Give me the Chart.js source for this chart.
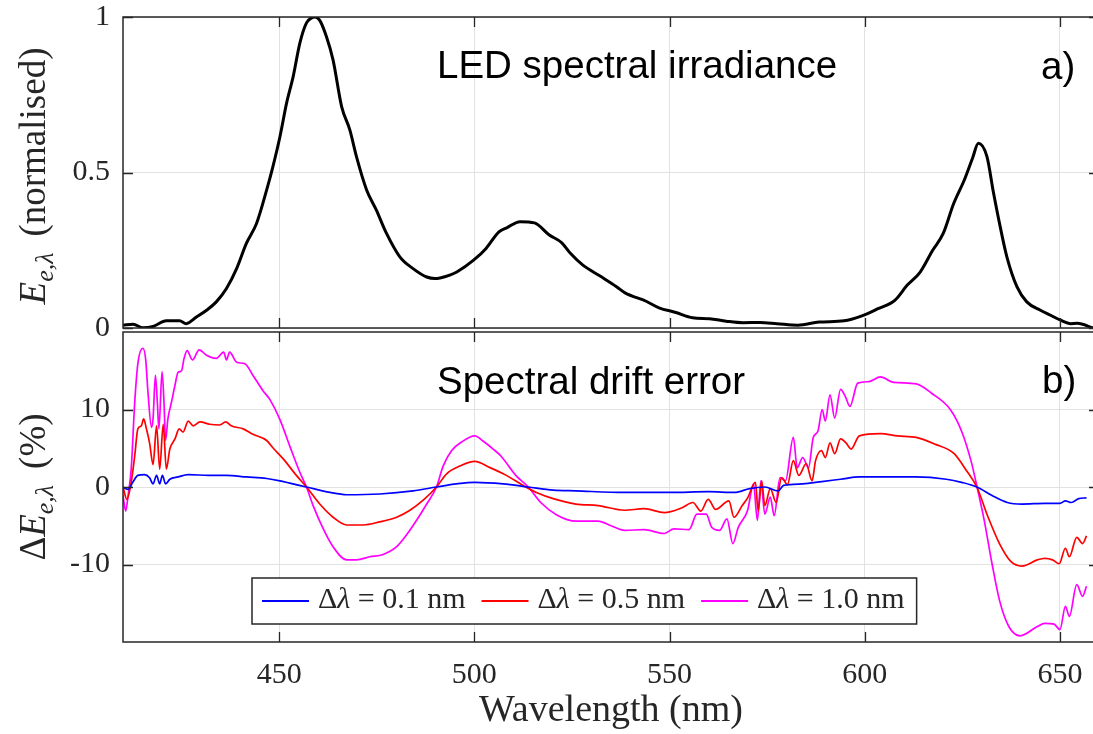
<!DOCTYPE html>
<html>
<head>
<meta charset="utf-8">
<script src="https://cdn.jsdelivr.net/npm/chart.js@4.4.0/dist/chart.umd.min.js"></script>
<style>
  html, body { margin: 0; padding: 0; background: #fff; overflow: hidden; }
  #wrap { position: relative; width: 1093px; height: 734px; overflow: hidden; }
  canvas { position: absolute; left: 0; }
  #top { top: 0; }
  #bottom { top: 330px; }
</style>
</head>
<body>
<div id="wrap">
  <canvas id="top" width="1110" height="345"></canvas>
  <canvas id="bottom" width="1110" height="404"></canvas>
</div>
<script>
// wavelength ticks (nm)
const xTicks = [450, 500, 550, 600, 650];
const topTicks = [0, 0.5, 1];
const bottomTicks = [-10, 0, 10];

// a) normalised LED spectral irradiance
const irrWl = [410, 412.6, 415.1, 417.7, 421.1, 424.5, 426.2, 428.8, 431.4, 433.9, 436.5, 439.1, 441.6, 444.2,
  446.8, 448.4, 450.2, 451.9, 453.6, 455.3, 457.0, 458.3, 459.2, 460.4, 462.1, 463.8, 466.0, 468.1, 469.8,
  472.4, 474.9, 477.5, 480.9, 484.3, 487.8, 489.9, 491.2, 493.7, 495.5, 499.8, 503.0, 506.3, 508.4, 511.7,
  515.4, 519.2, 522.4, 524.6, 527.8, 532.2, 536.5, 538.6, 544.0, 547.3, 551.6, 555.9, 560.2, 564.5, 568.8,
  573.2, 577.5, 582.9, 588.3, 594.7, 599.1, 603.4, 607.7, 610.9, 614.2, 617.4, 620.1, 622.8, 625.5, 627.6,
  629.1, 631.3, 633.0, 634.7, 636.4, 639.0, 641.5, 645.0, 647.6, 650.2, 652.7, 654.4, 658.5];
const irradiance = [0.009, 0.012, 0.001, 0.005, 0.023, 0.023, 0.014, 0.035, 0.057, 0.084, 0.127, 0.191, 0.272, 0.336,
  0.444, 0.519, 0.615, 0.723, 0.809, 0.916, 0.981, 0.997, 1.0, 0.989, 0.937, 0.862, 0.712, 0.637, 0.551,
  0.444, 0.379, 0.304, 0.229, 0.191, 0.164, 0.159, 0.161, 0.170, 0.180, 0.218, 0.256, 0.309, 0.323, 0.342,
  0.338, 0.299, 0.274, 0.240, 0.202, 0.167, 0.132, 0.113, 0.086, 0.065, 0.050, 0.033, 0.030, 0.022, 0.017,
  0.018, 0.014, 0.009, 0.019, 0.023, 0.038, 0.062, 0.089, 0.138, 0.180, 0.250, 0.304, 0.401, 0.476, 0.546,
  0.594, 0.551, 0.433, 0.325, 0.229, 0.132, 0.084, 0.057, 0.041, 0.025, 0.014, 0.015, 0.0];

// b) spectral drift error (%), dl = 0.1 nm
const wl01 = [410, 411.3, 412.5, 413.8, 415.5, 416.8, 417.7, 418.6, 419.4, 420.1, 420.9, 422.0, 424.1, 426.7,
  432, 436.5, 441.6, 446.8, 450.2, 452.7, 457.0, 463.0, 467.3, 475.8, 484.3, 490.3, 495.4, 500.1, 507.4,
  513.8, 520.2, 526, 538.5, 550, 560, 566.7, 570.5, 574.4, 577.8, 579.2, 584.1, 589, 593.8, 598.6, 603.5,
  613, 620.9, 624.8, 628.7, 632.6, 636.5, 640.3, 646.1, 650, 651.4, 652.9, 654.8, 656.8];
const err01 = [0, -0.3, 0.6, 1.5, 1.6, 1.2, 0.4, 1.5, 0.4, 1.5, 0.4, 1.0, 1.3, 1.6,
  1.5, 1.5, 1.3, 1.1, 0.8, 0.5, 0, -0.7, -1.0, -0.9, -0.5, 0, 0.4, 0.6, 0.4,
  0, -0.4, -0.5, -0.7, -0.7, -0.6, -0.7, -0.2, 0, -0.5, 0.2, 0.4, 0.7, 1.0, 1.3, 1.3,
  1.3, 1.0, 0.6, 0, -1.1, -2.0, -2.2, -2.1, -2.1, -1.8, -2.0, -1.5, -1.4];

// dl = 0.5 nm
const wl05 = [410, 411.0, 412.1, 413.0, 413.8, 414.7, 415.3, 416.0, 416.8, 417.7, 418.6, 419.4, 420.3, 421.1,
  422.0, 423.3, 424.4, 425.4, 426.7, 428.0, 429.7, 432.2, 434.8, 436.3, 437.7, 440.8, 443.3, 446.8, 448.5,
  451.1, 454.4, 457.0, 460.4, 463.8, 467.3, 471.5, 475.8, 480.1, 483.5, 486.9, 490.3, 492.9, 496.3, 500.1,
  504.0, 508.2, 512.5, 515.9, 520.2, 526.0, 531.7, 538.5, 543.4, 548.7, 553.1, 556.0, 558.0, 559.9, 561.8,
  565.2, 566.5, 568.6, 570.0, 572.0, 572.7, 573.6, 574.4, 575.8, 577.3, 578.7, 580.2, 581.7, 583.1, 585.0,
  586.5, 587.4, 588.9, 589.9, 591.1, 592.3, 593.8, 595.2, 596.5, 598.6, 604.0, 608.4, 613.2, 618.1, 622.9,
  625.8, 628.7, 631.6, 634.5, 637.4, 640.3, 644.2, 646.1, 648.1, 649.8, 651.4, 652.4, 654.3, 655.8, 656.8];
const err05 = [0, -1.6, 0.6, 4.0, 7.5, 7.9, 8.8, 7.5, 5.7, 2.9, 7.9, 2.3, 8.1, 2.3,
  4.9, 6.2, 7.5, 7.1, 8.5, 7.9, 8.4, 8.1, 8.0, 8.4, 7.9, 7.5, 6.8, 6.0, 5.0,
  3.6, 1.5, 0, -2.2, -3.9, -4.9, -4.9, -4.5, -3.9, -3.0, -1.7, 0, 1.7, 2.7, 3.3,
  2.5, 1.5, 0.2, -0.7, -1.5, -2.2, -2.4, -3.0, -2.8, -3.3, -2.7, -2.0, -3.1, -1.6, -2.9,
  -1.8, -3.9, -2.4, -1.4, 0.6, -3.1, 0.8, -2.4, -0.2, -2.0, 1.2, 0.3, 3.4, 1.5, 3.0,
  0.8, 3.4, 4.7, 3.8, 5.7, 4.3, 6.2, 5.7, 4.9, 6.6, 6.9, 6.6, 6.4, 5.5, 4.3,
  2.3, 0, -3.9, -7.3, -9.6, -10.2, -9.4, -9.2, -9.4, -9.9, -7.9, -9.0, -6.5, -7.3, -6.3];

// dl = 1.0 nm
const wl10 = [410, 410.7, 411.3, 412.1, 413.0, 413.8, 415.1, 415.8, 416.4, 417.3, 417.7, 418.3, 418.8, 419.2,
  420.0, 420.5, 420.9, 421.5, 422.4, 423.3, 424.1, 425.0, 425.6, 426.4, 427.8, 429.5, 431.4, 433.9, 435.8,
  436.5, 437.3, 439.1, 441.2, 443.3, 445.9, 447.6, 450.2, 452.7, 455.3, 457.0, 458.7, 461.3, 463.8, 467.3,
  469.8, 473.2, 476.6, 480.1, 482.6, 485.2, 487.8, 490.3, 492.0, 494.2, 496.7, 500.1, 502.3, 504.8, 506.8,
  510.6, 513.8, 517.0, 521.1, 526.0, 531.7, 535.0, 538.5, 543.4, 548.7, 551.1, 555.0, 557.0, 559.4, 560.8,
  562.8, 564.7, 566.2, 567.6, 570.0, 571.5, 572.5, 573.4, 574.4, 575.8, 576.8, 578.3, 579.7, 581.7, 582.7,
  584.1, 585.6, 586.8, 588.0, 589.1, 589.9, 591.1, 592.3, 593.8, 595.0, 596.2, 598.2, 601.1, 604.0, 607.4,
  613.2, 617.1, 621.9, 624.8, 627.2, 628.9, 630.6, 632.6, 634.5, 636.9, 639.8, 644.2, 646.1, 648.5, 650.0,
  651.4, 652.4, 654.3, 655.8, 656.8];
const err10 = [-1.1, -3.1, -1.1, 2.3, 10.9, 15.9, 17.9, 16.5, 12.2, 7.7, 8.8, 14.4, 10.9, 7.5,
  14.9, 10.9, 6.0, 8.8, 10.9, 13.1, 14.8, 15.0, 16.5, 17.6, 16.4, 17.7, 17.0, 16.6, 17.4,
  16.4, 17.4, 16.1, 15.9, 14.4, 12.4, 11.3, 8.7, 5.3, 1.9, 0, -2.4, -5.4, -7.7, -9.4,
  -9.4, -9.0, -8.7, -7.7, -6.2, -4.3, -2.2, 0, 2.7, 4.7, 5.8, 6.6, 5.9, 4.9, 4.0,
  1.5, 0, -2.0, -3.6, -4.4, -4.4, -5.0, -5.6, -5.5, -6.0, -5.4, -5.5, -3.5, -3.5, -5.2,
  -5.6, -4.1, -7.3, -5.2, -3.0, 0.4, -4.3, 0.8, -3.5, -1.3, -3.7, 1.2, 0.8, 6.4, 2.5,
  3.8, 2.5, 6.4, 7.2, 10.0, 8.5, 11.9, 8.9, 12.6, 11.7, 10.4, 13.4, 13.6, 14.2, 13.5,
  13.3, 12.1, 10.0, 7.2, 3.4, -0.3, -4.3, -9.9, -14.6, -18.0, -19.2, -18.0, -17.6, -17.7, -18.4,
  -15.4, -16.7, -12.6, -14.1, -12.8];

const AXIS = '#262626';
const GRID = '#e2e2e2';
const SERIF = '"Liberation Serif", "Times New Roman", serif';
const SANS = '"Liberation Sans", Arial, sans-serif';

const pts = (xs, ys) => xs.map((x, i) => ({x: x, y: ys[i]}));

function richWidth(ctx, parts) {
  let w = 0;
  parts.forEach(p => {
    ctx.font = p.font;
    w += ctx.measureText(p.text).width + (p.gap || 0);
  });
  return w;
}

function drawRich(ctx, parts, x, y) {
  parts.forEach(p => {
    ctx.font = p.font;
    ctx.fillText(p.text, x, y + (p.dy || 0));
    x += ctx.measureText(p.text).width + (p.gap || 0);
  });
  return x;
}

const it = s => 'italic ' + s + 'px ' + SERIF;
const rm = s => s + 'px ' + SERIF;

// boxed axes with inward ticks, panel text, y label, legend
const decor = {
  id: 'decor',
  afterDatasetsDraw(chart, args, o) {
    const {ctx, chartArea: a, scales} = chart;
    ctx.save();
    ctx.strokeStyle = AXIS;
    ctx.lineWidth = 1.5;
    ctx.strokeRect(a.left, a.top, a.right - a.left, a.bottom - a.top);
    ctx.lineWidth = 1.3;
    ctx.beginPath();
    scales.x.ticks.forEach(t => {
      const px = Math.round(scales.x.getPixelForValue(t.value)) + 0.5;
      ctx.moveTo(px, a.bottom); ctx.lineTo(px, a.bottom - 10);
      ctx.moveTo(px, a.top); ctx.lineTo(px, a.top + 10);
    });
    scales.y.ticks.forEach(t => {
      const py = Math.round(scales.y.getPixelForValue(t.value)) + 0.5;
      ctx.moveTo(a.left, py); ctx.lineTo(a.left + 10, py);
      ctx.moveTo(a.right, py); ctx.lineTo(a.right - 10, py);
    });
    ctx.stroke();

    // panel title and letter
    ctx.fillStyle = '#000';
    ctx.font = '38.5px ' + SANS;
    ctx.textBaseline = 'alphabetic';
    ctx.textAlign = 'left';
    ctx.fillText(o.title, o.titleX, o.titleY);
    ctx.fillText(o.tag, o.tagX, o.tagY);

    // rotated y label
    ctx.fillStyle = AXIS;
    ctx.save();
    ctx.translate(o.labelX, o.labelY);
    ctx.rotate(-Math.PI / 2);
    const w = richWidth(ctx, o.label);
    drawRich(ctx, o.label, -w / 2, 0);
    ctx.restore();

    // legend box
    if (o.legend) {
      const L = o.legend;
      let x = L.left + 10;
      const ends = [];
      chart.data.datasets.forEach(ds => {
        const parts = ds.label.split(/(λ)/).filter(s => s).map(s => ({text: s, font: s === 'λ' ? it(30) : rm(30)}));
        ends.push({ds: ds, parts: parts, x: x});
        x += 56 + richWidth(ctx, parts) + 16;
      });
      const right = x - 16 + 12;
      ctx.fillStyle = '#fff';
      ctx.fillRect(L.left, L.top, right - L.left, L.bottom - L.top);
      ctx.strokeStyle = AXIS;
      ctx.lineWidth = 1.5;
      ctx.strokeRect(L.left, L.top, right - L.left, L.bottom - L.top);
      const mid = (L.top + L.bottom) / 2;
      ends.forEach(e => {
        ctx.strokeStyle = e.ds.borderColor;
        ctx.lineWidth = 1.8;
        ctx.beginPath();
        ctx.moveTo(e.x, mid); ctx.lineTo(e.x + 47, mid);
        ctx.stroke();
        ctx.fillStyle = AXIS;
        drawRich(ctx, e.parts, e.x + 56, mid + 7);
      });
    }
    ctx.restore();
  }
};

const tickFont = {family: SERIF, size: 30};
const fixedTicks = vals => s => { s.ticks = vals.map(v => ({value: v})); };
const fixSize = (w, h) => s => {
  if (w !== null) s.width = w;
  if (h !== null) s.height = h;
  s.paddingTop = 0; s.paddingBottom = 0; s.paddingLeft = 0; s.paddingRight = 0;
};

new Chart(document.getElementById('top'), {
  type: 'line',
  data: {
    datasets: [{
      label: 'LED',
      data: pts(irrWl, irradiance),
      borderColor: '#000',
      borderWidth: 3
    }]
  },
  options: {
    animation: false,
    responsive: false,
    devicePixelRatio: 1,
    layout: {padding: {top: 17, right: 11, left: 0, bottom: 0}},
    elements: {point: {radius: 0}, line: {cubicInterpolationMode: 'monotone'}},
    plugins: {
      legend: {display: false},
      tooltip: {enabled: false},
      decor: {
        title: 'LED spectral irradiance', titleX: 437, titleY: 78,
        tag: 'a)', tagX: 1041, tagY: 79,
        labelX: 45, labelY: 176,
        label: [
          {text: 'E', font: it(37)},
          {text: 'e,λ', font: it(26), dy: 8, gap: 16},
          {text: '(normalised)', font: rm(37)}
        ]
      }
    },
    scales: {
      x: {
        type: 'linear', min: 410, max: 660,
        afterBuildTicks: fixedTicks(xTicks),
        afterFit: fixSize(null, 17),
        grid: {color: GRID, lineWidth: 1, drawTicks: false},
        border: {display: false},
        ticks: {display: false}
      },
      y: {
        min: 0, max: 1,
        afterBuildTicks: fixedTicks(topTicks),
        afterFit: fixSize(123, null),
        grid: {color: GRID, lineWidth: 1, drawTicks: false},
        border: {display: false},
        ticks: {font: tickFont, color: AXIS, padding: 13, callback: v => String(v)}
      }
    }
  },
  plugins: [decor]
});

new Chart(document.getElementById('bottom'), {
  type: 'line',
  data: {
    datasets: [
      {label: 'Δλ = 0.1 nm', data: pts(wl01, err01), borderColor: '#0000ff', borderWidth: 1.7},
      {label: 'Δλ = 0.5 nm', data: pts(wl05, err05), borderColor: '#ff0000', borderWidth: 1.7},
      {label: 'Δλ = 1.0 nm', data: pts(wl10, err10), borderColor: '#ff00ff', borderWidth: 1.7}
    ]
  },
  options: {
    animation: false,
    responsive: false,
    devicePixelRatio: 1,
    layout: {padding: {top: 2, right: 11, left: 0, bottom: 0}},
    elements: {point: {radius: 0}, line: {cubicInterpolationMode: 'monotone'}},
    plugins: {
      legend: {display: false},
      tooltip: {enabled: false},
      decor: {
        title: 'Spectral drift error', titleX: 437, titleY: 64,
        tag: 'b)', tagX: 1042, tagY: 63,
        labelX: 45, labelY: 157,
        label: [
          {text: 'Δ', font: rm(37)},
          {text: 'E', font: it(37)},
          {text: 'e,λ', font: it(26), dy: 8, gap: 16},
          {text: '(%)', font: rm(37)}
        ],
        legend: {left: 252, top: 248, bottom: 294}
      }
    },
    scales: {
      x: {
        type: 'linear', min: 410, max: 660,
        afterBuildTicks: fixedTicks(xTicks),
        afterFit: fixSize(null, 92),
        grid: {color: GRID, lineWidth: 1, drawTicks: false},
        border: {display: false},
        ticks: {font: tickFont, color: AXIS, padding: 15, maxRotation: 0, callback: v => String(v)},
        title: {display: true, text: 'Wavelength (nm)', color: AXIS, font: {family: SERIF, size: 38, lineHeight: 1.2}, padding: 0}
      },
      y: {
        min: -20, max: 20,
        afterBuildTicks: fixedTicks(bottomTicks),
        afterFit: fixSize(123, null),
        grid: {color: GRID, lineWidth: 1, drawTicks: false},
        border: {display: false},
        ticks: {font: tickFont, color: AXIS, padding: 13, callback: v => String(v)}
      }
    }
  },
  plugins: [decor]
});
</script>
</body>
</html>
